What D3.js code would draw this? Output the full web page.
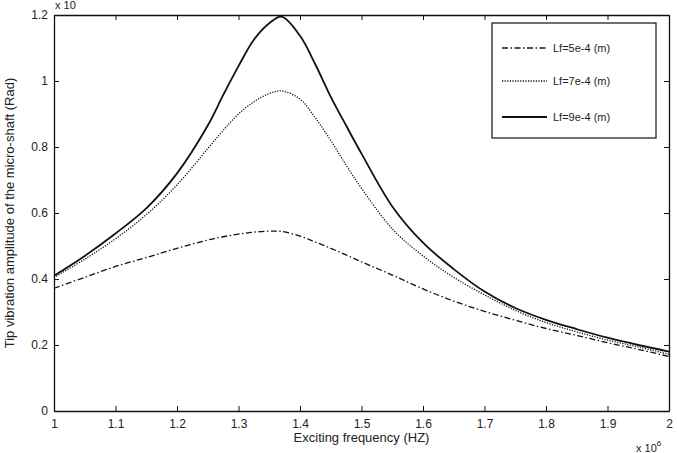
<!DOCTYPE html>
<html>
<head>
<meta charset="utf-8">
<script src="https://cdn.jsdelivr.net/npm/d3@7"></script>
<style>
  body { margin: 0; background: #fff; }
  svg { font-family: "Liberation Sans", Arial, sans-serif; }
</style>
</head>
<body>
<div id="chart"></div>
<script>
// frequencies (x 10^6 Hz)
var freq = [1.00, 1.05, 1.10, 1.15, 1.20, 1.25, 1.275, 1.30, 1.325, 1.35, 1.37, 1.40, 1.425,
            1.45, 1.475, 1.50, 1.55, 1.60, 1.65, 1.70, 1.75, 1.80, 1.85, 1.90, 1.95, 2.00];

// amplitudes (rad)
var lf5 = [0.372, 0.405, 0.438, 0.465, 0.493, 0.518, 0.528, 0.536, 0.542, 0.545, 0.544, 0.530, 0.512,
           0.493, 0.473, 0.452, 0.412, 0.370, 0.333, 0.302, 0.275, 0.250, 0.229, 0.207, 0.187, 0.165];
var lf7 = [0.405, 0.460, 0.522, 0.595, 0.685, 0.795, 0.850, 0.900, 0.937, 0.962, 0.970, 0.945, 0.888,
           0.820, 0.745, 0.675, 0.552, 0.470, 0.405, 0.352, 0.305, 0.268, 0.240, 0.215, 0.194, 0.172];
var lf9 = [0.410, 0.470, 0.538, 0.614, 0.720, 0.865, 0.957, 1.045, 1.125, 1.175, 1.195, 1.137, 1.050,
           0.952, 0.865, 0.780, 0.620, 0.510, 0.430, 0.362, 0.312, 0.276, 0.248, 0.222, 0.200, 0.180];

var seriesNames = ["Lf=5e-4 (m)", "Lf=7e-4 (m)", "Lf=9e-4 (m)"];
var xTicks = [1, 1.1, 1.2, 1.3, 1.4, 1.5, 1.6, 1.7, 1.8, 1.9, 2];
var yTicks = [0, 0.2, 0.4, 0.6, 0.8, 1, 1.2];

var width = 677, height = 453;
var margin = {left: 54, right: 8, top: 15, bottom: 42};

var svg = d3.select("#chart").append("svg")
    .attr("width", width)
    .attr("height", height);

var x = d3.scaleLinear().domain([1, 2]).range([margin.left, width - margin.right]);
var y = d3.scaleLinear().domain([0, 1.2]).range([height - margin.bottom, margin.top]);

var styles = [
  {dash: "6,2.5,1.5,2.5", w: 1.3},
  {dash: "1.2,1.4", w: 1.3},
  {dash: null, w: 1.8}
];
var allSeries = [lf5, lf7, lf9];

// curves
var line = d3.line()
    .x(function(d) { return x(d[0]); })
    .y(function(d) { return y(d[1]); })
    .curve(d3.curveCatmullRom.alpha(0.5));

allSeries.forEach(function(s, i) {
  svg.append("path")
      .datum(freq.map(function(f, j) { return [f, s[j]]; }))
      .attr("fill", "none")
      .attr("stroke", "#111")
      .attr("stroke-width", styles[i].w)
      .attr("stroke-dasharray", styles[i].dash)
      .attr("d", line);
});

// axes, MATLAB style with inward ticks on all four sides
var tickLen = 5;
svg.append("g")
    .attr("transform", "translate(0," + y(0) + ")")
    .call(d3.axisBottom(x).tickValues(xTicks).tickSizeInner(-tickLen).tickSizeOuter(0)
      .tickPadding(8).tickFormat(d3.format("")));
svg.append("g")
    .attr("transform", "translate(0," + y(1.2) + ")")
    .call(d3.axisTop(x).tickValues(xTicks).tickSizeInner(-tickLen).tickSizeOuter(0).tickFormat(""));
svg.append("g")
    .attr("transform", "translate(" + x(1) + ",0)")
    .call(d3.axisLeft(y).tickValues(yTicks).tickSizeInner(-tickLen).tickSizeOuter(0)
      .tickPadding(6).tickFormat(d3.format("")));
svg.append("g")
    .attr("transform", "translate(" + x(2) + ",0)")
    .call(d3.axisRight(y).tickValues(yTicks).tickSizeInner(-tickLen).tickSizeOuter(0).tickFormat(""));

svg.selectAll(".domain").attr("stroke", "#111").attr("stroke-width", 1.3);
svg.selectAll(".tick line").attr("stroke", "#111");
svg.selectAll(".tick text").attr("font-size", 12).attr("fill", "#222")
    .attr("font-family", "Liberation Sans, Arial, sans-serif");

// exponent labels
svg.append("text").attr("x", x(1) + 1).attr("y", 9)
    .attr("font-size", 11).attr("fill", "#222").text("x 10");
var ex = svg.append("text").attr("x", 636).attr("y", 452)
    .attr("font-size", 11).attr("fill", "#222");
ex.append("tspan").text("x 10");
ex.append("tspan").attr("dy", -6).attr("font-size", 8).text("6");

// axis titles
svg.append("text")
    .attr("x", (x(1) + x(2)) / 2)
    .attr("y", 442)
    .attr("text-anchor", "middle")
    .attr("font-size", 13)
    .attr("fill", "#222")
    .text("Exciting frequency (HZ)");
svg.append("text")
    .attr("transform", "translate(14," + ((y(0) + y(1.2)) / 2) + ") rotate(-90)")
    .attr("text-anchor", "middle")
    .attr("font-size", 13)
    .attr("fill", "#222")
    .text("Tip vibration amplitude of the micro-shaft (Rad)");

// legend
var lg = svg.append("g");
lg.append("rect")
    .attr("x", 492).attr("y", 23)
    .attr("width", 164).attr("height", 115)
    .attr("fill", "#fff").attr("stroke", "#111").attr("stroke-width", 1.2);
var rowY = [48, 81, 117];
seriesNames.forEach(function(name, i) {
  lg.append("line")
      .attr("x1", 502).attr("x2", 547)
      .attr("y1", rowY[i]).attr("y2", rowY[i])
      .attr("stroke", "#111")
      .attr("stroke-width", styles[i].w)
      .attr("stroke-dasharray", styles[i].dash);
  lg.append("text")
      .attr("x", 553).attr("y", rowY[i] + 4)
      .attr("font-size", 11).attr("fill", "#222")
      .text(name);
});
</script>
</body>
</html>
